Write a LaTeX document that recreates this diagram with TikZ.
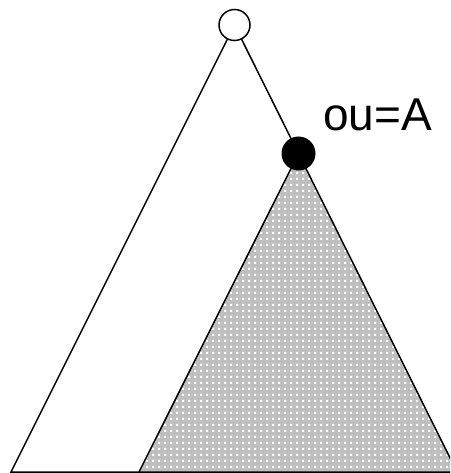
\documentclass[tikz,border=0pt]{standalone}
\usepackage{fontspec}
\setmainfont{Liberation Sans}
\usetikzlibrary{patterns}
\pgfdeclarepatternformonly{whitesq}{\pgfpointorigin}{\pgfpoint{5.6pt}{5.6pt}}{\pgfpoint{5.6pt}{5.6pt}}{%
  \pgfpathrectangle{\pgfpointorigin}{\pgfpoint{2.4pt}{2.4pt}}\pgfusepath{fill}}
\tikzset{
  edge/.style={line width=1.5pt, black},
  opennode/.style={circle, draw=black, line width=1.5pt, fill=white, minimum size=31pt, inner sep=0pt},
  solidnode/.style={circle, fill=black, minimum size=34pt, inner sep=0pt},
  shaded/.style={fill=black!25, postaction={pattern=whitesq, pattern color=white}},
  lbl/.style={font=\fontsize{46}{50}\selectfont, inner sep=0pt, anchor=base west}
}
\begin{document}
\begin{tikzpicture}[x=1pt,y=-1pt]
\useasboundingbox (0,0) rectangle (450,473);
\clip (0,0) rectangle (450,473);
\coordinate (lb) at (11,472);
\coordinate (rb) at (457,472);
\coordinate (sl) at (139,472);
\coordinate (sr) at (456,472);
\coordinate (tc) at (234.5,25);
\coordinate (mc) at (298.5,153.5);
\fill[shaded] (mc) -- (sl) -- (sr) -- cycle;
\draw[edge] (sl) -- (mc);
\draw[edge] (tc) -- (lb) -- (rb) -- (tc);
\node[opennode] (top) at (tc) {};
\node[solidnode] (mid) at (mc) {};
\node[lbl] (lab) at (323,131) {ou=A};
\end{tikzpicture}
\end{document}
